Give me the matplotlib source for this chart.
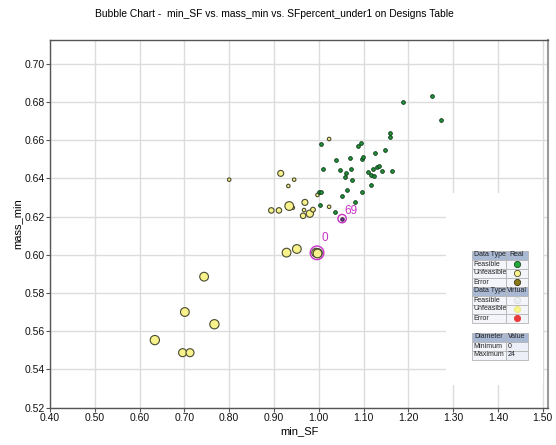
import matplotlib
matplotlib.use("Agg")
import matplotlib.pyplot as plt
from matplotlib.patches import Rectangle

plt.rcParams["font.family"] = ["Liberation Sans", "DejaVu Sans"]

W, H = 556, 445

# feasible designs (green)
feas_x = [1.187, 1.253, 1.273, 1.158, 1.158, 1.006, 1.087, 1.094, 1.125, 1.148,
          1.038, 1.070, 1.097, 1.099, 1.009, 1.047, 1.071, 1.061, 1.059, 1.110,
          1.122, 1.129, 1.134, 1.142, 1.163, 1.117, 1.123, 1.073, 1.116, 1.064,
          1.097, 1.052, 1.001, 1.004, 1.080, 1.003, 1.037]
feas_y = [0.6800, 0.6833, 0.6705, 0.6636, 0.6618, 0.6580, 0.6570, 0.6586, 0.6534, 0.6550,
          0.6496, 0.6506, 0.6503, 0.6512, 0.6447, 0.6443, 0.6447, 0.6426, 0.6407, 0.6432,
          0.6450, 0.6458, 0.6466, 0.6440, 0.6440, 0.6416, 0.6411, 0.6391, 0.6363, 0.6339,
          0.6328, 0.6307, 0.6327, 0.6328, 0.6276, 0.6260, 0.6224]

# unfeasible designs (yellow), bubble = SFpercent_under1
unf_x = [0.800, 0.945, 1.023, 0.932, 0.997, 1.023, 0.942, 0.967,
         0.915, 0.894, 0.911, 0.934, 0.969, 0.965, 0.980, 0.987,
         0.928, 0.951, 0.994, 0.998, 0.744, 0.701, 0.767, 0.634, 0.696, 0.7125]
unf_y = [0.6393, 0.6393, 0.6606, 0.6360, 0.6313, 0.6251, 0.6246, 0.6234,
         0.6426, 0.6232, 0.6232, 0.6255, 0.6274, 0.6204, 0.6215, 0.6236,
         0.6011, 0.6030, 0.6011, 0.6009, 0.5885, 0.5700, 0.5636, 0.5553, 0.5487, 0.5487]
unf_pct = [0, 0, 0, 0, 0, 0, 0, 0,
           10, 8, 8, 21, 10, 8, 15, 5,
           21, 21, 21, 21, 21, 21, 23, 23, 18, 18]

# labelled designs
lab_ids = ["0", "69"]
lab_x = [0.996, 1.052]
lab_y = [0.6010, 0.6189]
lab_pct = [21, 0]

x_ticks = [0.40, 0.50, 0.60, 0.70, 0.80, 0.90, 1.00, 1.10, 1.20, 1.30, 1.40, 1.50]
y_ticks = [0.52, 0.54, 0.56, 0.58, 0.60, 0.62, 0.64, 0.66, 0.68, 0.70]


def size_of(p):
    # diameter in px -> scatter size in pt^2
    d = (3.5 + p * 0.25) * 0.72
    return d * d


def fx(px):
    return px / W


def fy(py):
    return 1 - py / H


fig = plt.figure(figsize=(W / 100, H / 100), dpi=100)
ax = fig.add_axes([fx(50), fy(407.5), (548 - 50) / W, (407.5 - 39.5) / H])
ax.set_xlim(0.40, 1.5116)
ax.set_ylim(0.52, 0.7127)
ax.set_xticks(x_ticks)
ax.set_yticks(y_ticks)
ax.set_xticklabels([f"{v:.2f}" for v in x_ticks])
ax.set_yticklabels([f"{v:.2f}" for v in y_ticks])
ax.tick_params(labelsize=7.5, length=3, width=0.8, color="#555555", pad=1, labelcolor="#111111")
ax.grid(True, color="#dcdcdc", linewidth=1)
ax.set_axisbelow(True)
for s in ax.spines.values():
    s.set_color("#555555")
    s.set_linewidth(1)
ax.spines["right"].set_color("#999999")
ax.spines["right"].set_linewidth(1.5)

ax.scatter(unf_x, unf_y, s=[size_of(p) for p in unf_pct], c="#f7f28c",
           edgecolors="#4a4a30", linewidths=0.8, zorder=3)
ax.scatter(feas_x, feas_y, s=size_of(0.5), c="#239a3c",
           edgecolors="#0d3d18", linewidths=0.7, zorder=4)

# highlighted designs
ax.scatter(lab_x[0], lab_y[0], s=size_of(lab_pct[0]), c="#f7f28c",
           edgecolors="#4a4a30", linewidths=0.8, zorder=5)
ax.scatter(lab_x[1], lab_y[1], s=size_of(lab_pct[1]), c="#6a3a8a",
           edgecolors="#3a1a4a", linewidths=0.7, zorder=5)
for lx, ly, lp in zip(lab_x, lab_y, lab_pct):
    d = (3.5 + lp * 0.25) * 0.72 + 3.5
    ax.scatter(lx, ly, s=d * d, facecolors="none", edgecolors="#c832c8",
               linewidths=1.0, zorder=6)
offs = [(3, 6), (1.5, 1.5)]
for t, lx, ly, o in zip(lab_ids, lab_x, lab_y, offs):
    ax.annotate(t, (lx, ly), xytext=o, textcoords="offset points",
                fontsize=8.5, color="#c832c8", ha="left", va="bottom", zorder=7)

ax.set_xlabel("min_SF", fontsize=8, labelpad=2)
ax.set_ylabel("mass_min", fontsize=8, labelpad=1)
fig.text(fx(274), fy(14), "Bubble Chart -  min_SF vs. mass_min vs. SFpercent_under1 on Designs Table",
         ha="center", va="center", fontsize=7.4)

# legend panel
fig.patches.append(Rectangle((fx(446), fy(385)), (543 - 446) / W, (385 - 193) / H,
                             transform=fig.transFigure, facecolor="white", edgecolor="none", zorder=2))


def cell(x0, x1, y0, y1, fc):
    fig.patches.append(Rectangle((fx(x0), fy(y1)), (x1 - x0) / W, (y1 - y0) / H,
                                 transform=fig.transFigure, facecolor=fc,
                                 edgecolor="#b4b4b4", linewidth=0.6, zorder=3))


def txt(x, y, s, ha="left"):
    fig.text(fx(x), fy(y), s, fontsize=5, ha=ha, va="center", color="#222222", zorder=4)


def dot(x, y, fc, ec):
    fig.lines.append(plt.Line2D([fx(x)], [fy(y)], marker="o", markersize=4.5,
                                markerfacecolor=fc, markeredgecolor=ec, markeredgewidth=0.6,
                                transform=fig.transFigure, zorder=4))


tx0, tsp, tx1 = 472, 506, 528
rows = [
    ("Data Type", "Real", None, None, True),
    ("Feasible", None, "#22a83a", "#1a4a22", False),
    ("Unfeasible", None, "#f7f28c", "#4a4a30", False),
    ("Error", None, "#8a7a18", "#3a3410", False),
    ("Data Type", "Virtual", None, None, True),
    ("Feasible", None, "#e8eef2", "#d8dee2", False),
    ("Unfeasible", None, "#f5f48a", "#e8e880", False),
    ("Error", None, "#e83a3a", "#e83a3a", False),
]
y = 250.5
for name, val, fc, ec, head in rows:
    bg = "#a9b9d3" if head else "#f4f5fa"
    cell(tx0, tsp, y, y + 9, bg)
    cell(tsp, tx1, y, y + 9, bg)
    txt(tx0 + 1.5, y + 4.5, name)
    if head:
        txt((tsp + tx1) / 2, y + 4.5, val, ha="center")
    else:
        dot((tsp + tx1) / 2, y + 4.5, fc, ec)
    y += 9

y = 332.5
for name, val, head in [("Diameter", "Value", True), ("Minimum", "0", False), ("Maximum", "24", False)]:
    bg = "#a9b9d3" if head else "#f4f5fa"
    cell(tx0, tsp, y, y + 9, bg)
    cell(tsp, tx1, y, y + 9, bg if head else "#eceef8")
    if head:
        txt((tx0 + tsp) / 2, y + 4.5, name, ha="center")
        txt((tsp + tx1) / 2, y + 4.5, val, ha="center")
    else:
        txt(tx0 + 1.5, y + 4.5, name)
        txt(tsp + 1.5, y + 4.5, val)
    y += 9

fig.savefig("out.png", dpi=100)
